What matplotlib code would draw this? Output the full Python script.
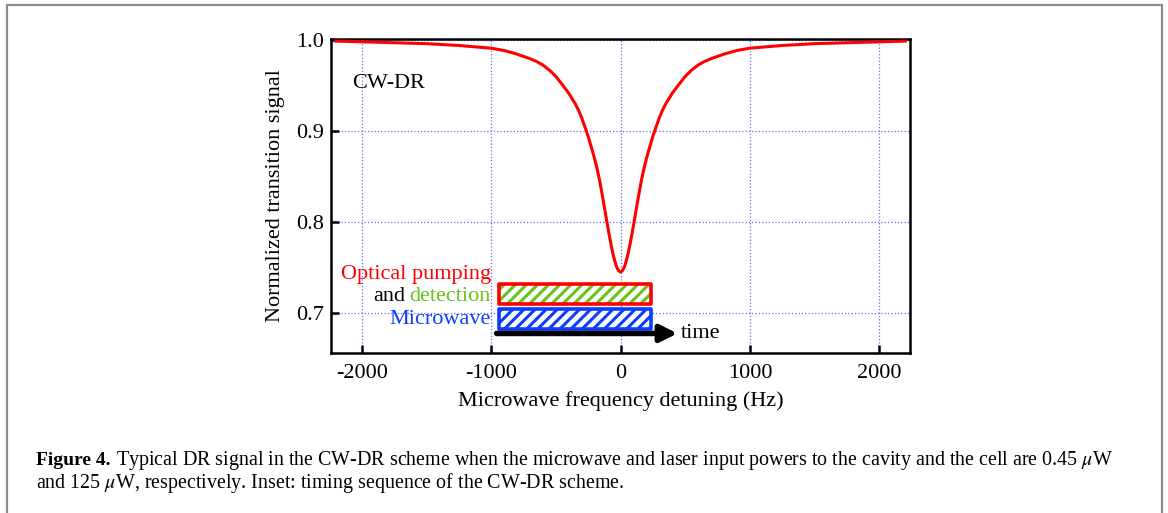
import matplotlib
matplotlib.use("Agg")
import matplotlib.pyplot as plt
from matplotlib.patches import Rectangle
import numpy as np

plt.rcParams['font.family'] = ['Liberation Serif', 'DejaVu Serif']
plt.rcParams['mathtext.fontset'] = 'stix'
plt.rcParams['axes.unicode_minus'] = False

# detuning (Hz) and normalized signal (left half, mirrored below)
half_detuning = [-2200, -2000, -1750, -1500, -1250, -1000, -900, -800, -700, -650,
                 -600, -550, -500, -450, -400, -350, -325, -300, -275, -250,
                 -225, -200, -180, -160, -140, -120, -105, -90, -75, -60,
                 -45, -30, -15]
half_signal = [0.9988, 0.998, 0.997, 0.996, 0.994, 0.991, 0.9885, 0.9845, 0.9795, 0.9765,
               0.9725, 0.967, 0.960, 0.951, 0.9415, 0.930, 0.923, 0.9145, 0.9045, 0.894,
               0.882, 0.8695, 0.858, 0.8445, 0.829, 0.8125, 0.800, 0.788, 0.7765, 0.766,
               0.7575, 0.7506, 0.7464]
center_signal = 0.745

detuning = half_detuning + [0] + [-d for d in half_detuning[::-1]]
signal = half_signal + [center_signal] + half_signal[::-1]

xticks = [-2000, -1000, 0, 1000, 2000]
yticks = [0.7, 0.8, 0.9, 1.0]

# inset timing boxes (x range in Hz, y range in signal units)
pump_box = (-942, 239, 0.7099, 0.7319)
mw_box = (-942, 239, 0.6824, 0.7044)
time_arrow = (-957, 440, 0.6775)

red = '#ff0000'
green = '#66c41a'
blue = '#0b3dff'
gridblue = '#6a6aff'

fig = plt.figure(figsize=(11.68, 5.13), dpi=100)
ax = fig.add_axes([331/1168, 1 - 353/513, 579/1168, 314/513])

ax.plot(detuning, signal, color=red, lw=2.2, zorder=3)

ax.set_xlim(-2237, 2237)
ax.set_ylim(0.656, 1.0011)
ax.set_xticks(xticks)
ax.set_xticklabels([str(t) for t in xticks])
ax.set_yticks(yticks)
ax.set_yticklabels(['%.1f' % t for t in yticks])
ax.tick_params(direction='in', length=6, width=1.8, labelsize=16)
ax.tick_params(axis='x', pad=8)
ax.tick_params(axis='y', pad=5)
for s in ax.spines.values():
    s.set_linewidth(1.8)
ax.grid(True, color=gridblue, ls=':', lw=0.9)
ax.set_axisbelow(True)

ax.set_xlabel('Microwave frequency detuning (Hz)', fontsize=16, labelpad=6)
ax.set_ylabel('Normalized transition signal', fontsize=16, labelpad=8)

ax.text(-2070, 0.9527, 'CW-DR', fontsize=16, va='center', ha='left')

# inset
plt.rcParams['hatch.linewidth'] = 2.2
x0, x1, y0, y1 = pump_box
ax.add_patch(Rectangle((x0, y0), x1 - x0, y1 - y0, facecolor='white',
                       edgecolor=green, hatch='///', lw=0, zorder=4))
ax.add_patch(Rectangle((x0, y0), x1 - x0, y1 - y0, fill=False,
                       edgecolor=red, lw=2.6, joinstyle='round', zorder=5))
x0, x1, y0, y1 = mw_box
ax.add_patch(Rectangle((x0, y0), x1 - x0, y1 - y0, facecolor='white',
                       edgecolor=blue, hatch='///', lw=0, zorder=4))
ax.add_patch(Rectangle((x0, y0), x1 - x0, y1 - y0, fill=False,
                       edgecolor=blue, lw=2.6, joinstyle='round', zorder=5))

ax.annotate('', xy=(time_arrow[1], time_arrow[2]), xytext=(time_arrow[0], time_arrow[2]),
            arrowprops=dict(arrowstyle='-|>,head_length=1.0,head_width=0.5',
                            lw=4, color='black', shrinkA=0, shrinkB=0), zorder=5)
ax.text(463, time_arrow[2], 'time', fontsize=16, va='center', ha='left')

ax.text(-1000, 0.7418, 'Optical pumping', color=red, fontsize=16, va='center', ha='right')
det = ax.text(-1000, 0.7176, 'detection', color=green, fontsize=16, va='center', ha='right')
ax.annotate('and', xy=(0, 0.5), xycoords=det, xytext=(-3, 0), textcoords='offset points',
            fontsize=16, va='center', ha='right')
ax.text(-1000, 0.6923, 'Microwave', color=blue, fontsize=16, va='center', ha='right')

# outer frame
fig.patches.append(Rectangle((7/1168, -0.1), 1155/1168, 1.1 - 5/513, transform=fig.transFigure,
                             fill=False, edgecolor='#8c8c8c', lw=1.6))

# caption
cap1 = fig.text(36/1168, 1 - 465/513, 'Figure 4.', fontsize=14, fontweight='bold', va='baseline')
fig.canvas.draw()
bb = cap1.get_window_extent()
fig.text(bb.x1/1168 + 5/1168, 1 - 465/513,
         'Typical DR signal in the CW-DR scheme when the microwave and laser input powers '
         'to the cavity and the cell are 0.45 $\\mu$W', fontsize=14.45, va='baseline')
fig.text(36/1168, 1 - 488/513, 'and 125 $\\mu$W, respectively. Inset: timing sequence of the CW-DR scheme.',
         fontsize=14.45, va='baseline')

fig.savefig('out.png', dpi=100)
